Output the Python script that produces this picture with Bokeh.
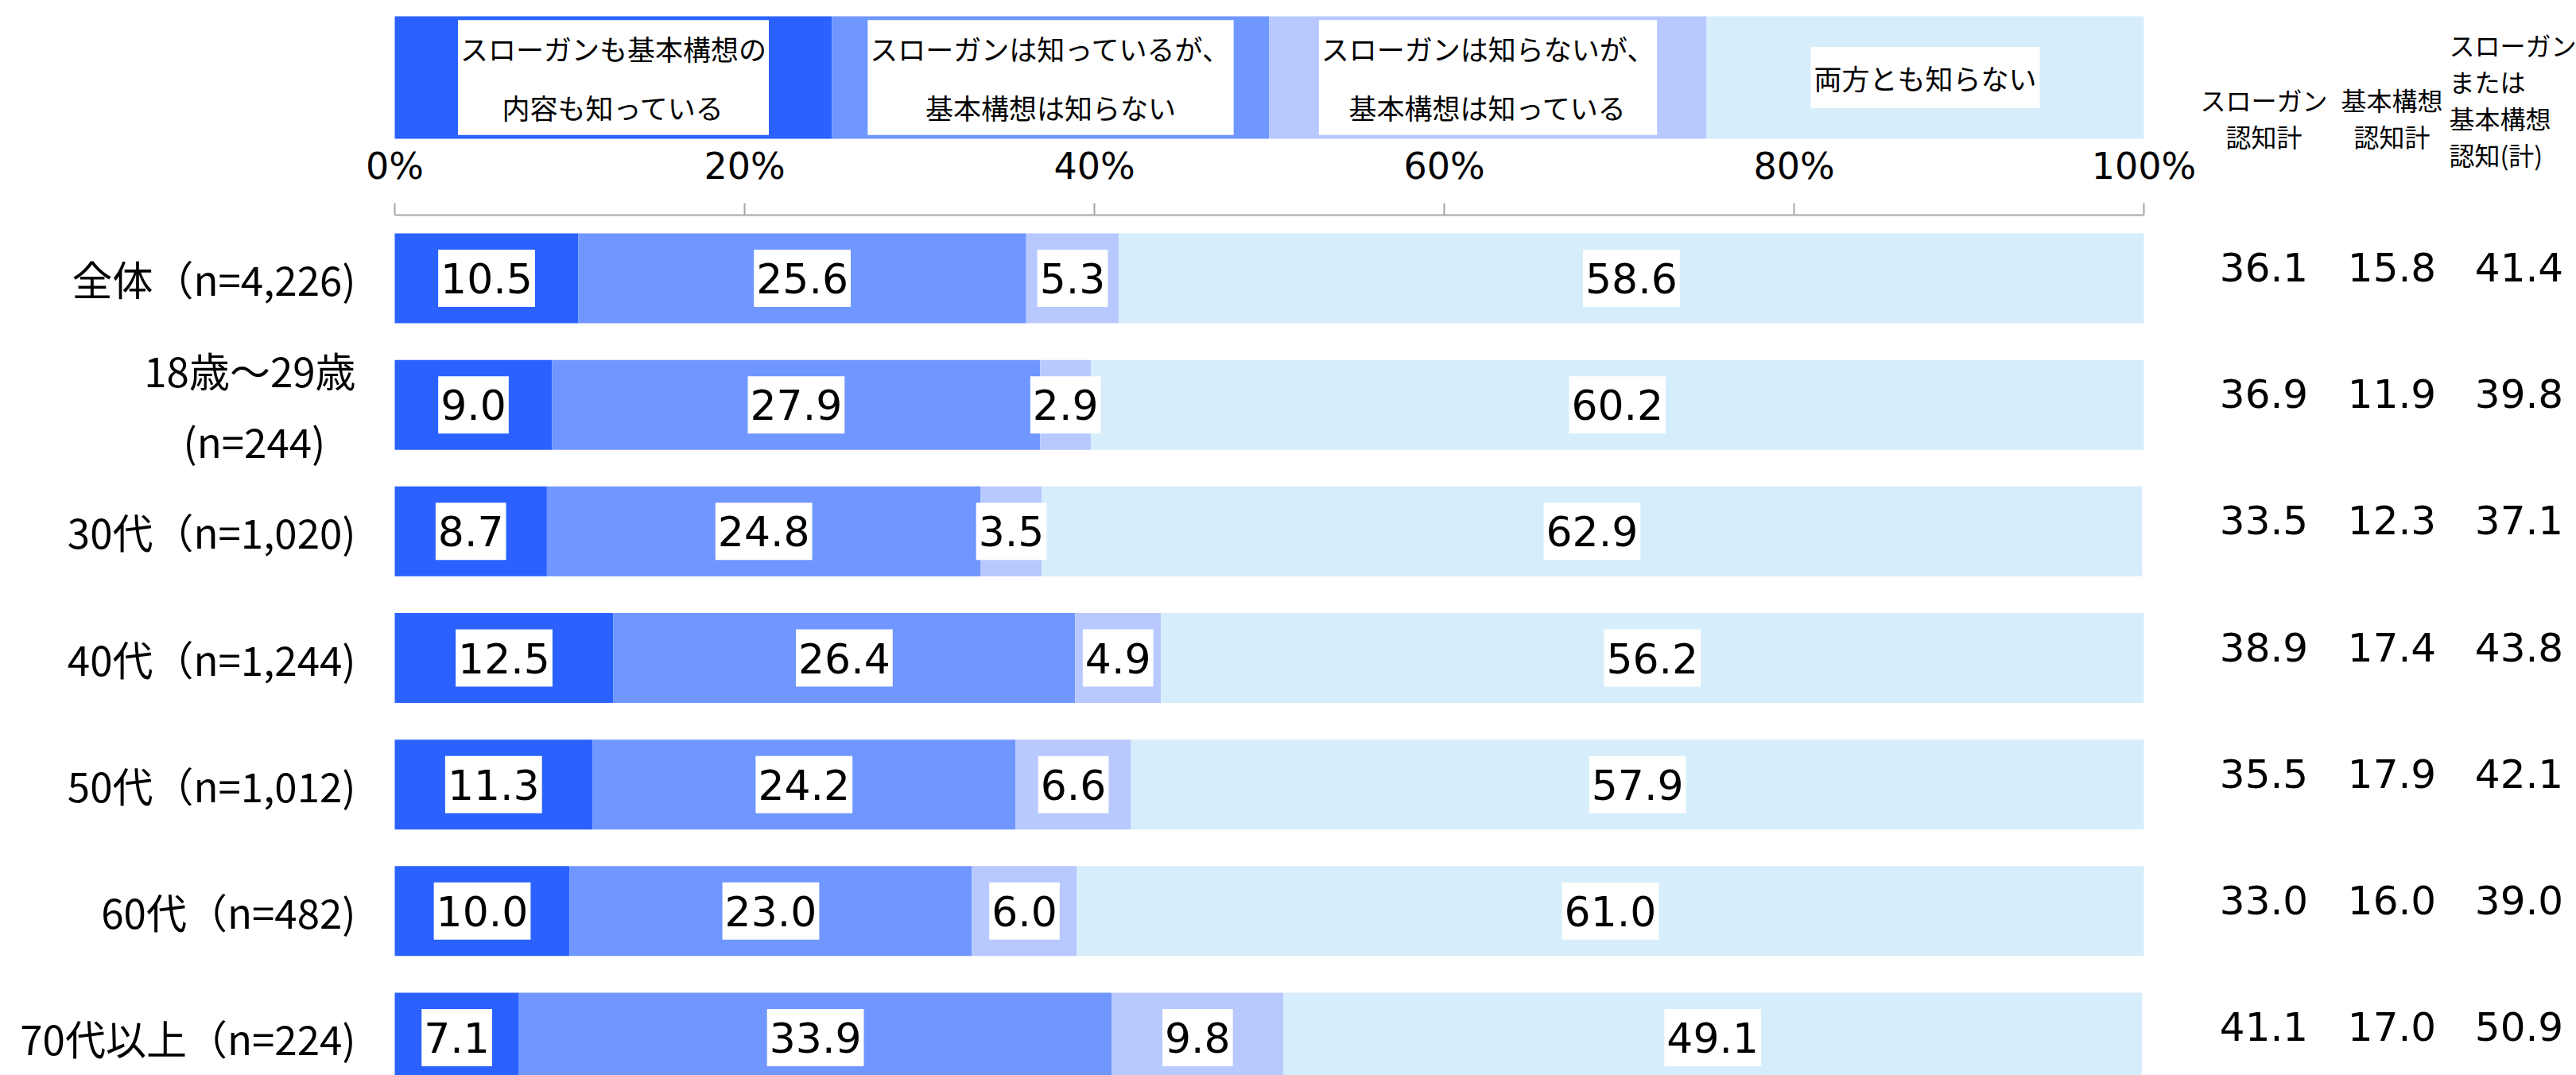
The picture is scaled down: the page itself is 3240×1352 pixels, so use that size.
from bokeh.plotting import figure
from bokeh.models import Range1d, LinearAxis, FixedTicker, PrintfTickFormatter, ColumnDataSource
from bokeh.core.properties import value
from bokeh.embed import file_html
from bokeh.resources import INLINE

# ---------------- data ----------------
categories = [
    "全体（n=4,226)",
    "18歳～29歳\n(n=244)\u2002\u2005",
    "30代（n=1,020)",
    "40代（n=1,244)",
    "50代（n=1,012)",
    "60代（n=482)",
    "70代以上（n=224)",
]
both_known = [10.5, 9.0, 8.7, 12.5, 11.3, 10.0, 7.1]
slogan_only = [25.6, 27.9, 24.8, 26.4, 24.2, 23.0, 33.9]
plan_only = [5.3, 2.9, 3.5, 4.9, 6.6, 6.0, 9.8]
neither = [58.6, 60.2, 62.9, 56.2, 57.9, 61.0, 49.1]

slogan_total = [36.1, 36.9, 33.5, 38.9, 35.5, 33.0, 41.1]
plan_total = [15.8, 11.9, 12.3, 17.4, 17.9, 16.0, 17.0]
either_total = [41.4, 39.8, 37.1, 43.8, 42.1, 39.0, 50.9]

legend_labels = [
    "スローガンも基本構想の\n内容も知っている",
    "スローガンは知っているが、\n基本構想は知らない",
    "スローガンは知らないが、\n基本構想は知っている",
    "両方とも知らない",
]
total_headers = [
    "スローガン\n認知計",
    "基本構想\n認知計",
    "スローガン\nまたは\n基本構想\n認知(計)",
]
x_ticks = [0, 20, 40, 60, 80, 100]

# ---------------- layout helpers ----------------
colors = ["#2B62FF", "#7096FF", "#B8C9FF", "#D6EEFB"]
W, H = 3240, 1352
FRAME_LEFT = 452          # page px of frame's left edge
ZERO_X = 496              # page px of 0 %
PX_PER_PCT = 22.0
ROW_SPACING = 159.17
ROW0 = 349.5


def ry(page_y):
    return (page_y - ROW0) / ROW_SPACING


def rx(page_x):
    return (page_x - ZERO_X) / PX_PER_PCT


p = figure(
    width=W, height=H,
    x_range=Range1d(rx(FRAME_LEFT), rx(W)),
    y_range=Range1d(start=ry(H), end=ry(0)),
    output_backend="svg", toolbar_location=None,
    x_axis_location=None, y_axis_location=None,
    min_border_left=FRAME_LEFT, min_border_right=0,
    min_border_top=0, min_border_bottom=0,
    outline_line_color=None, background_fill_color="white",
)
for g in p.grid:
    g.visible = False

rows = list(range(len(categories)))

# ---------------- x axis (fixed between legend and bars) ----------------
xa = LinearAxis(
    fixed_location=ry(270),
    ticker=FixedTicker(ticks=x_ticks),
    bounds=(0, 100),
    formatter=PrintfTickFormatter(format="%d%%"),
    major_tick_in=0, major_tick_out=15,
    minor_tick_in=0, minor_tick_out=0,
    axis_line_color="#A6A6A6", axis_line_width=2,
    major_tick_line_color="#A6A6A6", major_tick_line_width=2,
    major_label_text_font="DejaVu Sans",
    major_label_text_font_size="46px",
    major_label_text_color="black",
    major_label_standoff=20,
)
p.add_layout(xa, "above")

# ---------------- y axis (category labels) ----------------
ya = LinearAxis(
    ticker=FixedTicker(ticks=rows),
    major_label_overrides={i: c for i, c in enumerate(categories)},
    axis_line_color=None,
    major_tick_in=0, major_tick_out=0,
    minor_tick_in=0, minor_tick_out=0,
    major_label_text_font="Noto Sans CJK JP",
    major_label_text_font_size="51px",
    major_label_text_color="black",
    major_label_text_line_height=1.2,
    major_label_standoff=5,
)
p.add_layout(ya, "left")

# ---------------- legend bar ----------------
n_leg = len(legend_labels)
leg_left = [100 * i / n_leg for i in range(n_leg)]
leg_right = [100 * (i + 1) / n_leg for i in range(n_leg)]
leg_mid = [(a + b) / 2 for a, b in zip(leg_left, leg_right)]
leg_y = ry(97)
p.hbar(y=[leg_y] * n_leg, left=leg_left, right=leg_right, height=154 / ROW_SPACING,
       fill_color=colors, line_color=None)
p.text(x=leg_mid[:3], y=[leg_y] * 3, text=legend_labels[:3],
       text_align="center", text_baseline="middle",
       text_font=value("Noto Sans CJK JP"), text_font_size="35px",
       text_line_height=1.44, text_color="black",
       background_fill_color="white",
       padding=dict(left=3, right=3, top=10, bottom=10))
p.text(x=leg_mid[3:], y=[leg_y], text=legend_labels[3:],
       text_align="center", text_baseline="middle",
       text_font=value("Noto Sans CJK JP"), text_font_size="35px",
       text_color="black",
       background_fill_color="white",
       padding=dict(left=4, right=4, top=13, bottom=13))

# ---------------- stacked bars ----------------
series = [both_known, slogan_only, plan_only, neither]
cum = [0.0] * len(rows)
label_sources = []
for k, vals in enumerate(series):
    lefts = cum[:]
    rights = [a + b for a, b in zip(cum, vals)]
    src = ColumnDataSource(dict(
        y=rows, left=lefts, right=rights,
        mid=[(a + b) / 2 for a, b in zip(lefts, rights)],
        lab=[f"{v:.1f}" for v in vals],
    ))
    p.hbar(y="y", left="left", right="right", height=113 / ROW_SPACING,
           fill_color=colors[k], line_color=None, source=src)
    label_sources.append(src)
    cum = rights

for src in label_sources:
    p.text(x="mid", y="y", text="lab", source=src,
           text_align="center", text_baseline="middle",
           text_font=value("DejaVu Sans"), text_font_size="52px",
           text_color="black", background_fill_color="white",
           padding=dict(left=3, right=3, top=17, bottom=17))

# ---------------- totals on the right ----------------
total_x = [rx(2847), rx(3008), rx(3168)]
for xpos, vals in zip(total_x, [slogan_total, plan_total, either_total]):
    p.text(x=[xpos] * len(rows), y=rows, text=[f"{v:.1f}" for v in vals],
           text_align="center", text_baseline="middle", y_offset=-14,
           text_font=value("DejaVu Sans"), text_font_size="50px",
           text_color="black")

p.text(x=total_x[:2], y=[ry(147)] * 2, text=total_headers[:2],
       text_align="center", text_baseline="middle",
       text_font=value("Noto Sans CJK JP"), text_font_size="32px",
       text_line_height=1.0, text_color="black")
p.text(x=[rx(3080)], y=[ry(124)], text=total_headers[2:],
       text_align="left", text_baseline="middle",
       text_font=value("Noto Sans CJK JP"), text_font_size="32px",
       text_line_height=1.0, text_color="black")

open("out.html", "w").write(file_html(p, INLINE))
